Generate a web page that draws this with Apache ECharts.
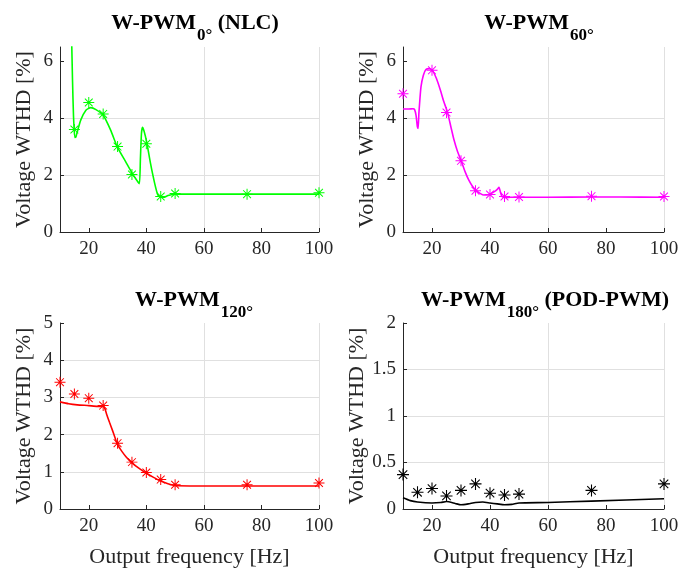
<!DOCTYPE html>
<html><head><meta charset="utf-8">
<script src="https://cdn.jsdelivr.net/npm/echarts@6/dist/echarts.min.js"></script>
<style>html,body{margin:0;padding:0;background:#fff}#c{width:686px;height:569px}</style>
</head><body><div id="c"></div>
<script>
// ---------- data ----------
const xTicks = [20, 40, 60, 80, 100];

// W-PWM 0° (NLC)
const meas0 = [[15, 3.6], [20, 4.55], [25, 4.15], [30, 3.0], [35, 2.02], [40, 3.1], [45, 1.25], [50, 1.35], [75, 1.33], [100, 1.38]];
const sim0 = [[14.0, 7.0], [14.35, 5.33], [14.7, 4.05], [15.15, 3.32], [15.5, 3.33], [15.85, 3.46], [17.2, 3.93], [19, 4.28], [20.7, 4.37], [22.5, 4.3], [25, 4.1], [27.6, 3.58], [29.9, 2.99], [32.8, 2.47], [35.1, 2.06], [36.8, 1.8], [37.6, 1.7], [37.95, 2.6], [38.3, 3.45], [38.65, 3.68], [39.2, 3.55], [40.1, 3.17], [41.45, 2.41], [42.9, 1.71], [44.0, 1.3], [44.9, 1.23], [46, 1.22], [47.5, 1.28], [49, 1.32], [50.5, 1.33], [60, 1.33], [75, 1.33], [100, 1.33]];

// W-PWM 60°
const meas60 = [[10, 4.86], [20, 5.68], [25, 4.2], [30, 2.5], [35, 1.45], [40, 1.32], [45, 1.25], [50, 1.23], [75, 1.26], [100, 1.25]];
const sim60 = [[10, 4.32], [12, 4.32], [13.5, 4.33], [14, 4.3], [14.5, 4.1], [14.95, 3.7], [15.2, 3.64], [15.5, 4.2], [16.2, 5.1], [17, 5.5], [17.9, 5.71], [19.1, 5.74], [20.2, 5.67], [21.5, 5.4], [22.9, 4.98], [24, 4.6], [25.3, 4.22], [26.5, 3.7], [27.6, 3.23], [28.8, 2.83], [30.1, 2.49], [31.4, 2.12], [32.7, 1.82], [34, 1.6], [35.4, 1.45], [36.7, 1.35], [37.9, 1.3], [39, 1.3], [40, 1.33], [41.5, 1.42], [42.5, 1.5], [43.1, 1.57], [43.6, 1.4], [44.2, 1.24], [45.5, 1.21], [47.1, 1.22], [50, 1.22], [60, 1.22], [75, 1.23], [85, 1.23], [100, 1.22]];

// W-PWM 120°
const meas120 = [[10, 3.41], [15, 3.09], [20, 2.98], [25, 2.78], [30, 1.77], [35, 1.26], [40, 0.98], [45, 0.79], [50, 0.65], [75, 0.65], [100, 0.7]];
const sim120 = [[10, 2.88], [13, 2.83], [16, 2.8], [20, 2.78], [23, 2.76], [25, 2.76], [25.6, 2.7], [26.2, 2.55], [27.2, 2.33], [28.2, 2.12], [29.1, 1.92], [30, 1.73], [31.5, 1.55], [33, 1.4], [35, 1.24], [37.5, 1.09], [40, 0.96], [42.5, 0.85], [45, 0.75], [47.5, 0.68], [50, 0.63], [55, 0.62], [75, 0.62], [100, 0.62]];

// W-PWM 180° (POD-PWM)
const meas180 = [[10, 0.37], [15, 0.18], [20, 0.22], [25, 0.14], [30, 0.2], [35, 0.27], [40, 0.17], [45, 0.15], [50, 0.16], [75, 0.2], [100, 0.27]];
const sim180 = [[10, 0.12], [12.5, 0.09], [15, 0.075], [20, 0.065], [23, 0.07], [25, 0.08], [28, 0.06], [30, 0.045], [32.5, 0.055], [35, 0.07], [37.5, 0.075], [40, 0.065], [42.5, 0.055], [45, 0.045], [47.5, 0.05], [50, 0.065], [60, 0.07], [75, 0.085], [100, 0.11]];

const yTicksTop = [0, 2, 4, 6];
const yTicks120 = [0, 1, 2, 3, 4, 5];
const yTicks180 = [0, 0.5, 1, 1.5, 2];

// ---------- chart ----------
const FONT = 'Liberation Serif';
const AX = '#262626';
const GRID = '#e0e0e0';
const STAR = 'path://M0 45.5L100 45.5L100 54.5L0 54.5Z M45.5 0L54.5 0L54.5 100L45.5 100Z M17.8 11.4L88.6 82.2L82.2 88.6L11.4 17.8Z M82.2 11.4L88.6 17.8L17.8 88.6L11.4 82.2Z';

const grids = [
  {left: 60, top: 47, width: 259, height: 185},
  {left: 403, top: 47, width: 261, height: 185},
  {left: 60, top: 323, width: 259, height: 186},
  {left: 403, top: 323, width: 261, height: 186}
];

function xAxis(i, named) {
  return {
    type: 'value', gridIndex: i, min: 10, max: 100, interval: 10,
    name: named ? 'Output frequency [Hz]' : '', nameLocation: 'middle', nameGap: 37,
    nameTextStyle: {fontFamily: FONT, fontSize: 22, color: AX},
    axisLine: {show: true, lineStyle: {color: AX, width: 1}},
    axisTick: {show: true, inside: true, length: 4, customValues: xTicks, lineStyle: {color: AX}},
    axisLabel: {customValues: xTicks, fontFamily: FONT, fontSize: 19, color: AX, margin: 8},
    splitLine: {show: true, showMinLine: false, lineStyle: {color: ['rgba(0,0,0,0)', GRID], width: 1}}
  };
}
function yAxis(i, max, interval, ticks) {
  return {
    type: 'value', gridIndex: i, min: 0, max: max, interval: interval,
    name: 'Voltage WTHD [%]', nameLocation: 'middle', nameGap: 25, nameRotate: 90,
    nameTextStyle: {fontFamily: FONT, fontSize: 22, color: AX},
    axisLine: {show: true, lineStyle: {color: AX, width: 1}},
    axisTick: {show: true, inside: true, length: 4, customValues: ticks, lineStyle: {color: AX}},
    axisLabel: {customValues: ticks, fontFamily: FONT, fontSize: 19, color: AX, margin: 7},
    splitLine: {show: true, showMinLine: false, showMaxLine: false, lineStyle: {color: GRID, width: 1}}
  };
}
function lineSeries(i, data, color) {
  return {type: 'line', xAxisIndex: i, yAxisIndex: i, data: data, showSymbol: false, symbol: 'none',
    smooth: 0.2, clip: true, lineStyle: {color: color, width: 1.6}, z: 2, silent: true};
}
function markSeries(i, data, color, size) {
  return {type: 'scatter', xAxisIndex: i, yAxisIndex: i, data: data, symbol: STAR, symbolSize: size,
    itemStyle: {color: color, borderWidth: 0, opacity: 1}, z: 3, silent: true};
}
function title(x, y, sub, extra) {
  return {
    text: '{m|W-PWM}{s|' + sub + '}' + (extra ? '{m| ' + extra + '}' : ''),
    left: x, top: y, textAlign: 'center',
    textStyle: {
      rich: {
        m: {fontFamily: FONT, fontWeight: 'bold', fontSize: 22, color: '#000', lineHeight: 24, verticalAlign: 'top'},
        s: {fontFamily: FONT, fontWeight: 'bold', fontSize: 17, color: '#000', lineHeight: 18, padding: [15, 0, 0, 1], verticalAlign: 'top'}
      }
    }
  };
}

const chart = echarts.init(document.getElementById('c'), null, {renderer: 'canvas'});
chart.setOption({
  animation: false,
  backgroundColor: '#fff',
  title: [
    title(190, 7, '0°', '(NLC)'),
    title(534, 7, '60°'),
    title(189, 284, '120°'),
    title(540, 284, '180°', '(POD-PWM)')
  ],
  grid: grids,
  xAxis: [xAxis(0, false), xAxis(1, false), xAxis(2, true), xAxis(3, true)],
  yAxis: [yAxis(0, 6.5, 0.5, yTicksTop), yAxis(1, 6.5, 0.5, yTicksTop), yAxis(2, 5, 1, yTicks120), yAxis(3, 2, 0.5, yTicks180)],
  series: [
    lineSeries(0, sim0, '#00ff00'), markSeries(0, meas0, '#00ff00', 11),
    lineSeries(1, sim60, '#ff00ff'), markSeries(1, meas60, '#ff00ff', 11),
    lineSeries(2, sim120, '#ff0000'), markSeries(2, meas120, '#ff0000', 11),
    lineSeries(3, sim180, '#000000'), markSeries(3, meas180, '#000000', 12)
  ]
});
</script></body></html>
